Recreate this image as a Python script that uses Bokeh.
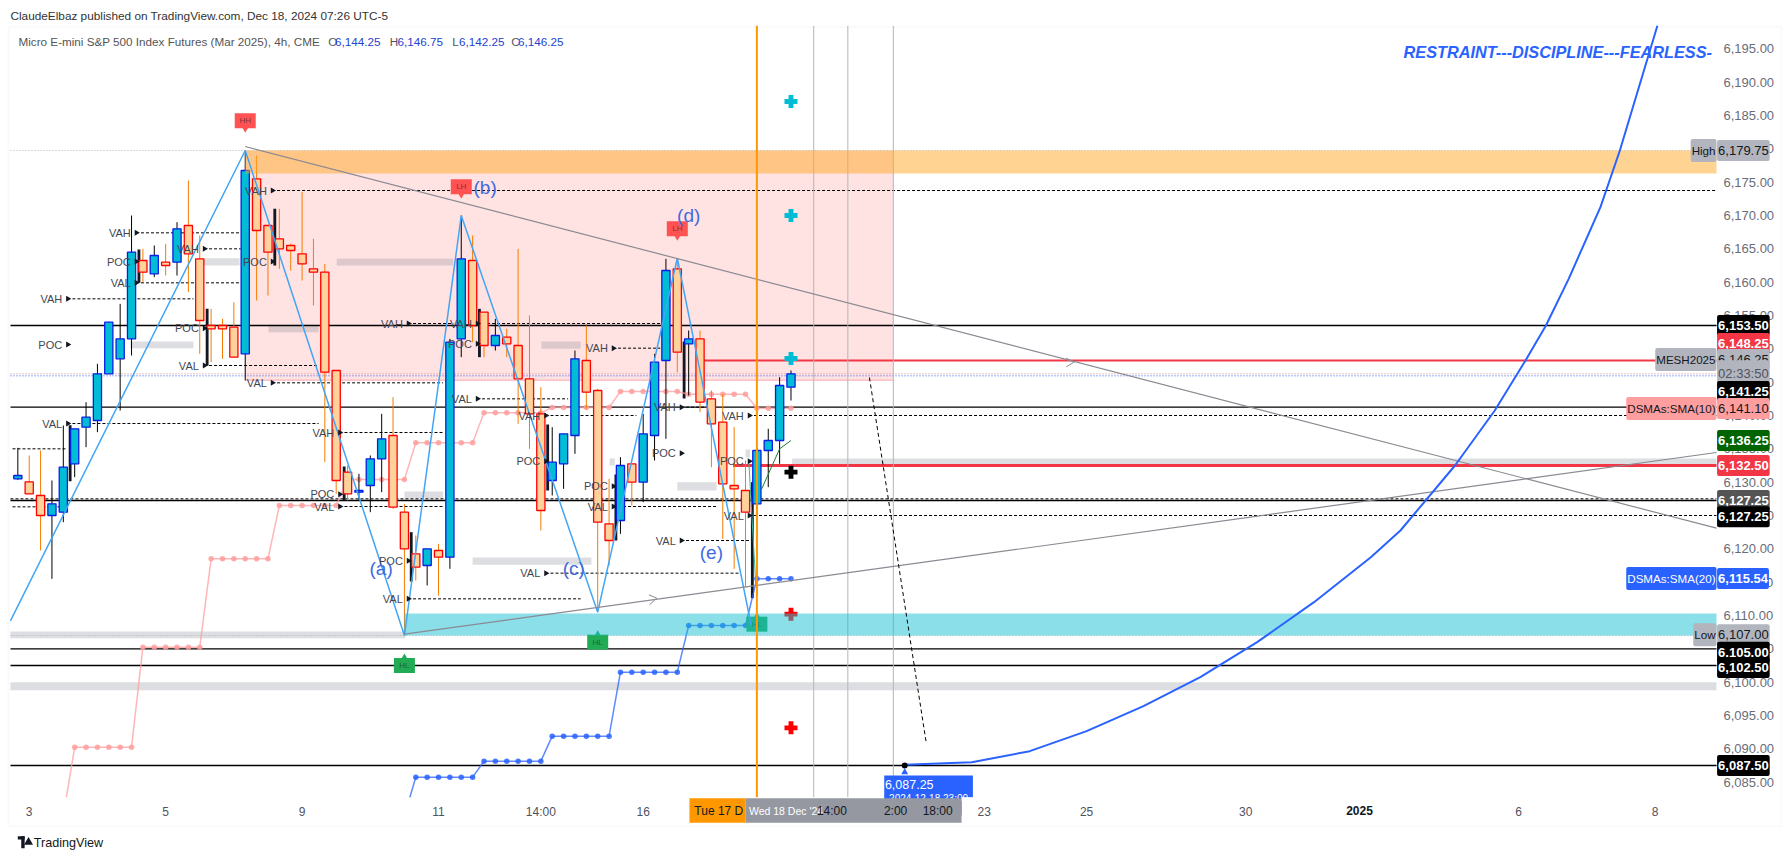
import math

from bokeh.core.properties import value as fixed
from bokeh.embed import file_html
from bokeh.models import BoxAnnotation, FixedTicker, Label, LinearAxis, NumeralTickFormatter
from bokeh.plotting import figure
from bokeh.resources import INLINE

# 4h candles
opens = [6130.5, 6130.05, 6128, 6125, 6125.5, 6132.75, 6138.25, 6139.25, 6146.25, 6148.5, 6151.5, 6163.25, 6161.25, 6163,
         6163, 6168.5, 6163.5, 6153.5, 6153.5, 6153.25, 6149.25, 6175.5, 6168.5, 6166.5, 6165.5, 6164.25, 6162, 6161.5,
         6146.75, 6131.5, 6128.5, 6129.5, 6133.5, 6137, 6125.5, 6119.25, 6117.5, 6119.75, 6118.75, 6151.5, 6163.25,
         6155.5, 6150.5, 6151.75, 6150.5, 6145.5, 6140.25, 6130.25, 6132.75, 6137, 6148.25, 6143.75, 6123.75, 6124.25,
         6132.75, 6130, 6137, 6148.25, 6162, 6150.75, 6151.5, 6142.5, 6139, 6129.5, 6128.75, 6126.75, 6134.75, 6136.25,
         6144.25]
highs = [6135.15, 6134, 6134.75, 6130.25, 6138.5, 6138, 6142, 6147.75, 6154, 6156.75, 6170, 6165, 6165.5, 6165.75,
         6169, 6175.25, 6167, 6156, 6154.5, 6157, 6179.75, 6179, 6168.5, 6171, 6165.75, 6173.5, 6166.5, 6162.75,
         6146.75, 6132.5, 6131.25, 6134, 6140.25, 6142.75, 6126.75, 6122, 6120, 6120.75, 6151.5, 6170, 6167,
         6155.5, 6154.5, 6153, 6165, 6155, 6144.25, 6138.25, 6137.25, 6149.75, 6153.5, 6144, 6130.5, 6133.75,
         6132.75, 6140.25, 6149.25, 6163.5, 6163.5, 6152.75, 6152.75, 6143.75, 6143.25, 6138.25, 6133.25, 6135.25, 6138,
         6145.75, 6146.75]
lows = [6130.35, 6128.25, 6119.75, 6115.5, 6124, 6130.75, 6135.25, 6137.5, 6146.25, 6140.75, 6149, 6160, 6160.75, 6161,
        6161, 6158.5, 6149.25, 6148, 6148.5, 6148.75, 6145.25, 6157.25, 6158, 6162, 6161.75, 6160.25, 6156.5, 6133,
        6128.25, 6127.25, 6127.25, 6125.5, 6128.5, 6126, 6107, 6115.25, 6114.5, 6113, 6117, 6148.75, 6151,
        6148.75, 6149.75, 6148.75, 6138.75, 6135, 6122.75, 6128, 6129, 6134.25, 6141, 6110.5, 6117.5, 6122.25,
        6126.5, 6127, 6133.25, 6136.5, 6146.5, 6143, 6140.5, 6132.25, 6121.5, 6117, 6114.25, 6113, 6129.25, 6132.75,
        6142.25]
closes = [6131, 6128.25, 6125, 6126.75, 6132.25, 6138, 6139.75, 6146.25, 6154, 6151.5, 6164.5, 6161.5, 6164, 6162.5,
          6168, 6164.25, 6154.25, 6153, 6153, 6148.75, 6176.75, 6167.75, 6164.5, 6165, 6164.75, 6162.75, 6161.5, 6146.5,
          6130.25, 6128.25, 6128.75, 6133.5, 6136.5, 6126.25, 6120, 6117.25, 6120, 6118.75, 6151, 6163.5, 6153.5,
          6150.5, 6152, 6150.75, 6145.5, 6140.25, 6125.75, 6133, 6137.25, 6148.5, 6143.5, 6124, 6121.25, 6132.5,
          6130, 6137.25, 6148, 6161.75, 6149.5, 6151.5, 6142, 6138.75, 6129.75, 6129, 6125.5, 6134.75, 6136.25, 6144.5,
          6146.25]

# moving averages, entry point at the pane bottom then one value per bar
sma10_x = [4.27] + list(range(5, 69))
sma10 = [6082.75] + [6090.25] * 6 + [6105.25] * 6 + [6118.5] * 6 + [6126.5] * 6 + [6130.4] * 6 + [6135.9] * 6 + \
    [6140.4] * 6 + [6141.2] * 6 + [6143.6] * 6 + [6143.2] * 6 + [6141.1] * 4
sma20_x = [34.48] + list(range(35, 69))
sma20 = [6082.75] + [6085.75] * 6 + [6088.15] * 6 + [6091.9] * 6 + [6101.5] * 6 + [6108.5] * 6 + [6115.5] * 4

# session volume profile marks
session_x = [4.4, 10.43, 16.42, 22.4, 28.33, 34.36, 40.43, 46.45, 52.39, 58.37, 64.35]
vah_prices = [6157.5, 6167.4, 6165, 6173.75, 6137.45, 6153.8, 6153.8, 6140, 6150.1, 6141.25, 6140]
vah_ends = [15.45, 19.5, 19.6, 149.4, 37.4, 38.3, 56.5, 54.4, 56.5, 61, 149.4]
poc_prices = [6150.65, 6163.1, 6153.1, 6163.1, 6128.2, 6118.2, 6150.75, 6133.15, 6129.4, 6134.35, 6133.15]
val_prices = [6138.8, 6159.9, 6147.5, 6144.9, 6126.35, 6112.5, 6142.5, 6116.35, 6126.35, 6121.25, 6125]
val_ends = [26.45, 19.5, 26.45, 37.4, 37.4, 49.5, 48.4, 63.5, 61.5, 64.3, 149.4]
range_x = [4.6, 10.65, 16.65, 22.6, 28.7, 34.6, 40.6, 46.6, 52.6, 58.6, 64.6]
range_top = [6138.55, 6164.9, 6156, 6171, 6132.35, 6122.5, 6156, 6138.65, 6131.15, 6151.1, 6130]
range_bottom = [6130.15, 6159.9, 6147.5, 6162.5, 6127.25, 6115.1, 6148.75, 6128.75, 6121.25, 6142.55, 6112.6]

# grey zones
zone_left = [9.9, 16.1, 22.05, 28.05, 34, 40, 46.05, 52.05, 58, 64, 68.1, -0.65, -0.65]
zone_right = [15.45, 19.5, 26.45, 38.3, 37.4, 50.45, 49.5, 52.5, 61.45, 64.4, 149.4, 34.1, 149.4]
zone_top = [6151.1, 6163.6, 6153.6, 6163.5, 6128.6, 6118.7, 6151.1, 6133.55, 6130, 6134.9, 6133.55, 6107.6, 6100]
zone_bottom = [6150.1, 6162.5, 6152.5, 6162.5, 6127.6, 6117.6, 6150, 6132.5, 6128.75, 6133.7, 6132.65, 6106.6, 6098.8]

# level lines
solid_levels = [6153.5, 6141.25, 6127.25, 6105, 6102.5, 6087.5]
dash_levels = [6135, 6126.3, 6127.5]
dash_left = [-0.47, -0.47, -0.65]
dash_right = [4.3, 4, 149.4]
vline_x = [70, 73, 77]
orange_vline_x = 65

# drawings
zigzag_x = [-0.65, 20, 34, 39, 51, 58, 64.5]
zigzag_y = [6109.2, 6179.75, 6107, 6170, 6110.5, 6163.6, 6108.5]
trend_x0 = [20, 34]
trend_y0 = [6180.35, 6107.2]
trend_x1 = [149.4, 149.4]
trend_y1 = [6123.1, 6134.45]
chevron_x0 = [92.2, 92.2, 55.5, 55.55]
chevron_y0 = [6148.6, 6147.3, 6113.1, 6111.6]
chevron_x1 = [92.9, 92.9, 56.2, 56.2]
chevron_y1 = [6148, 6148, 6112.6, 6112.6]
forecast_x = [74.9, 79.9]
forecast_y = [6145.7, 6090.85]
green_x = [65.4, 67, 68]
green_y = [6128.9, 6135, 6136.25]
teal_x = [64.3, 64.9]
teal_y = [6132.8, 6114.8]
curve_x = [78, 83.9, 89, 94, 99, 104, 109, 114, 119, 121.6, 126.4, 129.9, 132.6, 134.4, 136.4, 139.2, 140.9, 144.2]
curve_y = [6087.6, 6088, 6089.65, 6092.65, 6096.4, 6100.75, 6106, 6112, 6118.75, 6122.75, 6132.5, 6140.75, 6148.25,
           6153.5, 6160.5, 6171.3, 6179.75, 6198.45]

cyan_plus_x = [68, 68, 68]
cyan_plus_y = [6187.1, 6170, 6148.55]
black_plus_y = 6131.5
red_plus_y = [6110.2, 6093.15]

flags_down = [(20, 6184.2, "HH"), (39, 6174.3, "LH"), (58, 6168, "LH")]
flags_up = [(34, 6102.5, "HL"), (51, 6106, "HL"), (65, 6108.7, "HL")]
wave_labels = [(31.95, 6117.1, "(a)"), (41.1, 6174.2, "(b)"), (48.9, 6117.1, "(c)"), (59, 6170, "(d)"),
               (61, 6119.5, "(e)")]

y_ticks = list(range(6085, 6200, 5))
x_ticks = [1, 13, 25, 37, 46, 55, 85, 94, 108, 132, 144]
x_tick_labels = ["3", "5", "9", "11", "14:00", "16", "23", "25", "30", "6", "8"]

# price tags: drawn price, text, background, text colour
axis_tags = [
    (6179.75, "6,179.75", "#b2b5be", "#131722"),
    (6153.5, "6,153.50", "#000000", "#ffffff"),
    (6150.8, "6,148.25", "#f23645", "#ffffff"),
    (6148.4, "6,146.25", "#b2b5be", "#131722"),
    (6146.25, "02:33:50", "#b2b5be", "#50535e"),
    (6143.6, "6,141.25", "#000000", "#ffffff"),
    (6141.05, "6,141.10", "#ff9e9e", "#131722"),
    (6136.25, "6,136.25", "#006400", "#ffffff"),
    (6132.5, "6,132.50", "#f23645", "#ffffff"),
    (6127.25, "6,127.25", "#555555", "#ffffff"),
    (6124.8, "6,127.25", "#000000", "#ffffff"),
    (6115.54, "6,115.54", "#2962ff", "#ffffff"),
    (6107.1, "6,107.00", "#b2b5be", "#131722"),
    (6104.5, "6,105.00", "#000000", "#ffffff"),
    (6102.2, "6,102.50", "#000000", "#ffffff"),
    (6087.5, "6,087.50", "#000000", "#ffffff"),
]
name_tags = [
    (6179.75, "High", "#b2b5be", "#131722"),
    (6148.4, "MESH2025", "#b2b5be", "#131722"),
    (6141.05, "DSMAs:SMA(10)", "#ff9e9e", "#131722"),
    (6115.54, "DSMAs:SMA(20)", "#2962ff", "#ffffff"),
    (6107.1, "Low", "#b2b5be", "#131722"),
]

UI_FONT = "Liberation Sans"

# the frame fills the page so price tags and header are not clipped, the pane is a part of it
x_min, x_max = -0.645, 149.4
y_min, y_max = 6082.75, 6198.45

p = figure(width=1784, height=854, x_range=(-1.5245, 155.38), y_range=(6074.15, 6202.25),
           output_backend="svg", toolbar_location=None, x_axis_location=None, y_axis_location=None,
           min_border_left=0, min_border_top=0, min_border_right=0, min_border_bottom=0)
p.grid.visible = False
p.outline_line_color = None

price_axis = LinearAxis(fixed_location=x_max, ticker=FixedTicker(ticks=y_ticks),
                        formatter=NumeralTickFormatter(format="0,0.00"))
time_axis = LinearAxis(fixed_location=y_min, ticker=FixedTicker(ticks=x_ticks),
                       major_label_overrides=dict(zip(x_ticks, x_tick_labels)))
for axis in (price_axis, time_axis):
    axis.major_label_text_font = UI_FONT
    axis.major_tick_line_color = None
    axis.minor_tick_line_color = None
    axis.axis_line_color = None
    axis.major_tick_out = 0
    axis.major_tick_in = 0
price_axis.major_label_text_font_size = "13px"
price_axis.major_label_text_color = "#6a6d78"
price_axis.major_label_standoff = 7
time_axis.major_label_text_font_size = "12px"
time_axis.major_label_text_color = "#50535e"
time_axis.major_label_standoff = 8
p.add_layout(price_axis, "right")
p.add_layout(time_axis, "below")

font = fixed(UI_FONT)
DASH = fixed([3, 2])
DOT = fixed([1, 2])

# pink box goes under the candles
p.quad(left=[20], right=[77], top=[6179.75], bottom=[6145.3], fill_color="#ff5252", fill_alpha=0.17, line_color=None)
p.segment([20], [6145.3], [77], [6145.3], line_color="#f9a8ad", line_width=1)

# grey zones
p.quad(left=zone_left, right=zone_right, top=zone_top, bottom=zone_bottom,
       fill_color="#787b86", fill_alpha=0.25, line_color=None)

# level lines
p.segment([x_min] * len(solid_levels), solid_levels, [x_max] * len(solid_levels), solid_levels,
          line_color="#000000", line_width=1.3)
p.segment(dash_left, dash_levels, dash_right, dash_levels, line_color="#000000", line_dash=DASH)
p.segment([s + 0.4 for s in session_x], vah_prices, vah_ends, vah_prices, line_color="#000000", line_dash=DASH)
p.segment([s + 0.4 for s in session_x], val_prices, val_ends, val_prices, line_color="#000000", line_dash=DASH)
p.segment([x_min], [6146.25], [x_max], [6146.25], line_color="#d58a8f", line_dash=DOT)
p.segment([x_min], [6145.95], [x_max], [6145.95], line_color="#2962ff", line_dash=DOT)
p.segment([x_min, x_min], [6179.75, 6107], [x_max, x_max], [6179.75, 6107],
          line_color="#b2b5be", line_dash=DOT)
p.segment([59.9], [6148.25], [x_max], [6148.25], line_color="#f23645", line_width=2)
p.segment([62.9], [6132.5], [x_max], [6132.5], line_color="#f23645", line_width=3)

p.segment(vline_x, [y_min] * 3, vline_x, [y_max] * 3, line_color="#b2b5be", line_width=1)

# profile range bars
p.vbar(x=range_x, width=0.25, top=range_top, bottom=range_bottom, fill_color="#131722", line_color=None)

# sma lines
p.line(sma10_x, sma10, line_color="#ff9e9e", line_width=1.5, line_alpha=0.75)
p.scatter(sma10_x[1:], sma10[1:], size=5.5, fill_color="#ff9e9e", line_color=None, alpha=0.85)
p.line(sma20_x, sma20, line_color="#2962ff", line_width=1.5, line_alpha=0.75)
p.scatter(sma20_x[1:], sma20[1:], size=5.5, fill_color="#2962ff", line_color=None, alpha=0.85)

# candles
bar_x = list(range(len(opens)))
up = [c >= o for o, c in zip(opens, closes)]
wick_colors = ["#000000" if u else "#f57c00" for u in up]
body_fill = ["#00bcd4" if u else "#ffd29c" for u in up]
body_line = ["#0a1ee6" if u else "#ff0000" for u in up]
p.segment(bar_x, highs, bar_x, lows, line_color=wick_colors, line_width=1)
p.vbar(x=bar_x, width=0.72, top=[max(o, c) for o, c in zip(opens, closes)],
       bottom=[min(o, c) for o, c in zip(opens, closes)],
       fill_color=body_fill, line_color=body_line, line_width=1.3)

# marks at the last bar
p.scatter(cyan_plus_x, cyan_plus_y, marker="plus", size=13, fill_color="#00bcd4", line_color=None)
p.scatter([68], [black_plus_y], marker="plus", size=13, fill_color="#000000", line_color=None)
p.scatter([68, 68], red_plus_y, marker="plus", size=13, fill_color="#ff0000", line_color=None)

# flags
for fx, fy, name in flags_up:
    p.rect([fx], [fy], width=21, height=15, width_units="screen", height_units="screen",
           fill_color="#22ab55", line_color=None)
    p.scatter([fx], [fy + 1.2], marker="triangle", size=7, fill_color="#22ab55", line_color=None)
    p.text([fx], [fy], text=[name], text_font=font, text_font_size="8px", text_color="#20633a",
           text_align="center", text_baseline="middle")
for fx, fy, name in flags_down:
    p.rect([fx], [fy], width=21, height=15, width_units="screen", height_units="screen",
           fill_color="#ff5252", line_color=None)
    p.scatter([fx], [fy - 1.2], marker="inverted_triangle", size=7, fill_color="#ff5252", line_color=None)
    p.text([fx], [fy], text=[name], text_font=font, text_font_size="8px", text_color="#8a3238",
           text_align="center", text_baseline="middle")

# bands over the candles
p.quad(left=[20], right=[x_max], top=[6179.75], bottom=[6176.3], fill_color="#ffa726", fill_alpha=0.5, line_color=None)
p.quad(left=[34], right=[x_max], top=[6110.3], bottom=[6107], fill_color="#18bfd2", fill_alpha=0.5, line_color=None)

# drawings
p.line(zigzag_x, zigzag_y, line_color="#42a5f5", line_width=1.5)
p.segment(trend_x0, trend_y0, trend_x1, trend_y1, line_color="#8a8a92", line_width=1.2)
p.segment(chevron_x0, chevron_y0, chevron_x1, chevron_y1, line_color="#8a8a92", line_width=1)
p.line(forecast_x, forecast_y, line_color="#000000", line_dash=[4, 3], line_width=1)
p.line(green_x, green_y, line_color="#1b7a34", line_width=1)
p.line(teal_x, teal_y, line_color="#3cb4a0", line_width=1)
p.segment([orange_vline_x], [y_min], [orange_vline_x], [y_max], line_color="#ff9800", line_width=2)
p.line(curve_x, curve_y, line_color="#2962ff", line_width=2)
p.scatter([78], [6087.5], size=6, fill_color="#000000", line_color=None)

# blue price callout, the time axis strip covers its lower part
p.quad(left=[76.2], right=[84], top=[6086], bottom=[6080], fill_color="#2962ff", line_color=None)
p.scatter([78], [6086.5], marker="triangle", size=7, fill_color="#2962ff", line_color=None)
p.text([78.4], [6084.6], text=["6,087.25"], text_font=font, text_font_size="12.5px", text_color="#ffffff",
       text_align="center", text_baseline="middle")
p.text([80.1], [6082.5], text=["2024-12-18 23:00"], text_font=font, text_font_size="10px", text_color="#ffffff",
       text_align="center", text_baseline="middle")

# profile labels
for name, prices in (("VAH", vah_prices), ("POC", poc_prices), ("VAL", val_prices)):
    p.text([s - 0.5 for s in session_x], prices, text=[name] * len(prices), text_font=font,
           text_font_size="11px", text_color="#434651", text_align="right", text_baseline="middle")
    p.scatter(session_x, prices, marker="triangle", angle=-math.pi / 2, size=6, fill_color="#131722", line_color=None)

for wx, wy, name in wave_labels:
    p.text([wx], [wy], text=[name], text_font=font, text_font_size="19px", text_color="#3f6ae0",
           text_align="center", text_baseline="middle")

# footer logo
p.scatter([0.94], [6076], marker="triangle", size=9, fill_color="#131722", line_color=None)

# widget border and time axis strips
p.add_layout(BoxAnnotation(left=-0.82, right=155.1, top=6198.3, bottom=6078.4, fill_alpha=0,
                           line_color="#eceef4", line_width=2, level="underlay"))
p.add_layout(BoxAnnotation(left=83, right=84.2, top=y_min, bottom=6078.9, fill_color="#ffffff", fill_alpha=1,
                           line_color=None))
p.add_layout(BoxAnnotation(left=59.07, right=64, top=6082.6, bottom=6078.9, fill_color="#ff9800", fill_alpha=1,
                           line_color=None))
p.add_layout(BoxAnnotation(left=64, right=83, top=6082.6, bottom=6078.9, fill_color="#9598a1", fill_alpha=1,
                           line_color=None))
p.add_layout(BoxAnnotation(left=0, right=0.6, top=6076.9, bottom=6076.4, fill_color="#131722", fill_alpha=1,
                           line_color=None))
p.add_layout(BoxAnnotation(left=0.3, right=0.6, top=6076.9, bottom=6075.1, fill_color="#131722", fill_alpha=1,
                           line_color=None))


def text_at(x, y, text, color="#131722", size="12px", style="normal", align="left"):
    p.add_layout(Label(x=x, y=y, text=text, text_color=color, text_font=UI_FONT, text_font_size=size,
                       text_font_style=style, text_align=align, text_baseline="middle"))


def tag(x, y, text, bg, color, align, size, side_pad):
    p.add_layout(Label(x=x, y=y, text=text, text_color=color, text_font=UI_FONT, text_font_size=size,
                       text_font_style="bold" if color == "#ffffff" and size == "13px" else "normal",
                       text_align=align, text_baseline="middle", background_fill_color=bg,
                       padding=(1, side_pad), border_radius=2))


for ty, text, bg, color in axis_tags:
    tag(149.45, ty, text, bg, color, "left", "13px", 6)
for ty, text, bg, color in name_tags:
    tag(149.4, ty, text, bg, color, "right", "11.6px", 5)

# time axis tags
text_at(59.5, 6080.7, "Tue 17 D", "#131722")
text_at(64.3, 6080.7, "Wed 18 Dec '24", "#ffffff", size="10.5px")
text_at(71.6, 6080.7, "14:00", "#131722", align="center")
text_at(77.2, 6080.7, "2:00", "#131722", align="center")
text_at(80.9, 6080.7, "18:00", "#131722", align="center")
text_at(118, 6080.7, "2025", "#131722", style="bold", align="center")

# header and footer
text_at(-0.65, 6199.95, "ClaudeElbaz published on TradingView.com, Dec 18, 2024 07:26 UTC-5", "#333333", size="11.8px")
text_at(0.06, 6196.05, "Micro E-mini S&P 500 Index Futures (Mar 2025), 4h, CME", "#555555", size="11.7px")
for lx, letter, vx, val in ((27.3, "O", 27.9, "6,144.25"), (32.7, "H", 33.4, "6,146.75"),
                            (38.2, "L", 38.8, "6,142.25"), (43.4, "C", 44, "6,146.25")):
    text_at(lx, 6196.05, letter, "#555555", size="11.7px")
    text_at(vx, 6196.05, val, "#2443d0", size="11.7px")
text_at(149, 6194.55, "RESTRAINT---DISCIPLINE---FEARLESS-", "#2962ff", size="16.3px", style="bold italic", align="right")
text_at(1.4, 6075.85, "TradingView", "#131722", size="12.6px")

open("out.html", "w").write(file_html(p, INLINE))
